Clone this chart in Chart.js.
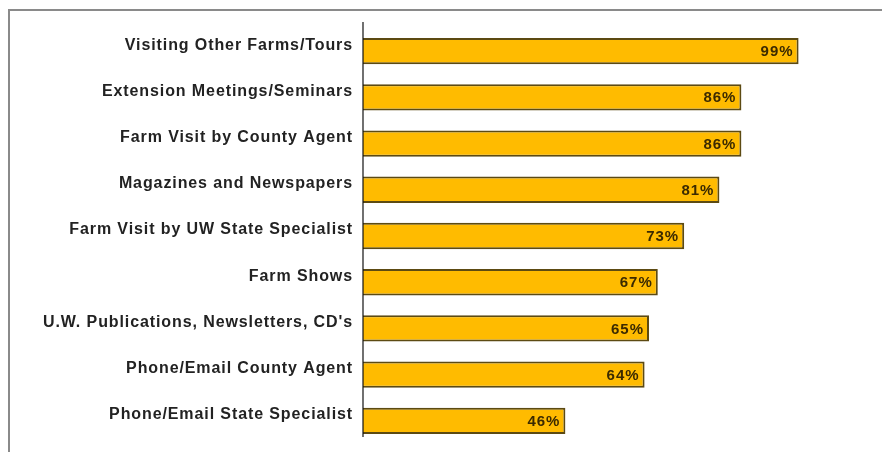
<!DOCTYPE html>
<html>
<head>
<meta charset="utf-8">
<script src="https://cdn.jsdelivr.net/npm/chart.js@4/dist/chart.umd.min.js"></script>
<style>
  body { margin: 0; background: #fff; }
  #wrap { position: relative; width: 882px; height: 452px; }
  #frame { position: absolute; left: 8px; top: 9px; right: 0; bottom: 0;
           border-top: 2px solid #8a8a8a; border-left: 2px solid #8a8a8a; }
  canvas { position: absolute; left: 0; top: 0; }
</style>
</head>
<body>
<div id="wrap">
  <div id="frame"></div>
  <canvas id="chart" width="882" height="452"></canvas>
</div>
<script>
const categories = [
  "Visiting Other Farms/Tours",
  "Extension Meetings/Seminars",
  "Farm Visit by County Agent",
  "Magazines and Newspapers",
  "Farm Visit by UW State Specialist",
  "Farm Shows",
  "U.W. Publications, Newsletters, CD's",
  "Phone/Email County Agent",
  "Phone/Email State Specialist"
];
const percents = [99, 86, 86, 81, 73, 67, 65, 64, 46];

// spaced-out lettering like the original export
const spacing = {
  id: 'spacing',
  beforeDraw(chart) { chart.ctx.letterSpacing = '0.9px'; },
  afterDraw(chart) { chart.ctx.letterSpacing = '0px'; }
};

// axis line sits a little higher than the bars
const axisLine = {
  id: 'axisLine',
  afterDatasetsDraw(chart) {
    const { ctx, chartArea } = chart;
    const x = chart.scales.y.right;
    ctx.save();
    ctx.strokeStyle = '#111';
    ctx.lineWidth = 1.2;
    ctx.beginPath();
    ctx.moveTo(x, chartArea.top - 6);
    ctx.lineTo(x, chartArea.bottom - 7);
    ctx.stroke();
    ctx.restore();
  }
};

const valueLabels = {
  id: 'valueLabels',
  afterDatasetsDraw(chart) {
    const ctx = chart.ctx;
    const meta = chart.getDatasetMeta(0);
    ctx.save();
    ctx.letterSpacing = '1px';
    ctx.font = 'bold 15px "Liberation Sans", Arial, sans-serif';
    ctx.fillStyle = '#3b2a00';
    ctx.textAlign = 'right';
    ctx.textBaseline = 'middle';
    meta.data.forEach((bar, i) => {
      ctx.fillText(percents[i] + '%', bar.x - 5, bar.y + 1);
    });
    ctx.restore();
  }
};

const myChart = new Chart(document.querySelector('#chart'), {
  type: 'bar',
  data: {
    labels: categories,
    datasets: [{
      data: percents,
      backgroundColor: '#ffbb00',
      borderColor: '#5c4a12',
      borderWidth: 2,
      borderSkipped: 'left',
      barPercentage: 0.57,
      categoryPercentage: 1
    }]
  },
  options: {
    indexAxis: 'y',
    responsive: false,
    animation: false,
    layout: { padding: { top: 28, bottom: 8, right: 79, left: 0 } },
    plugins: { legend: { display: false }, tooltip: { enabled: false } },
    scales: {
      x: { display: false, min: 0, max: 100 },
      y: {
        grid: { display: false },
        border: { display: false },
        afterFit(scale) {
          scale.width = 363;
          scale.paddingTop = 0;
          scale.paddingBottom = 0;
        },
        ticks: {
          padding: 2,
          labelOffset: -6,
          color: '#222',
          font: { family: '"Liberation Sans", Arial, sans-serif', size: 16, weight: 'bold' }
        }
      }
    }
  },
  plugins: [spacing, axisLine, valueLabels]
});
</script>
</body>
</html>
